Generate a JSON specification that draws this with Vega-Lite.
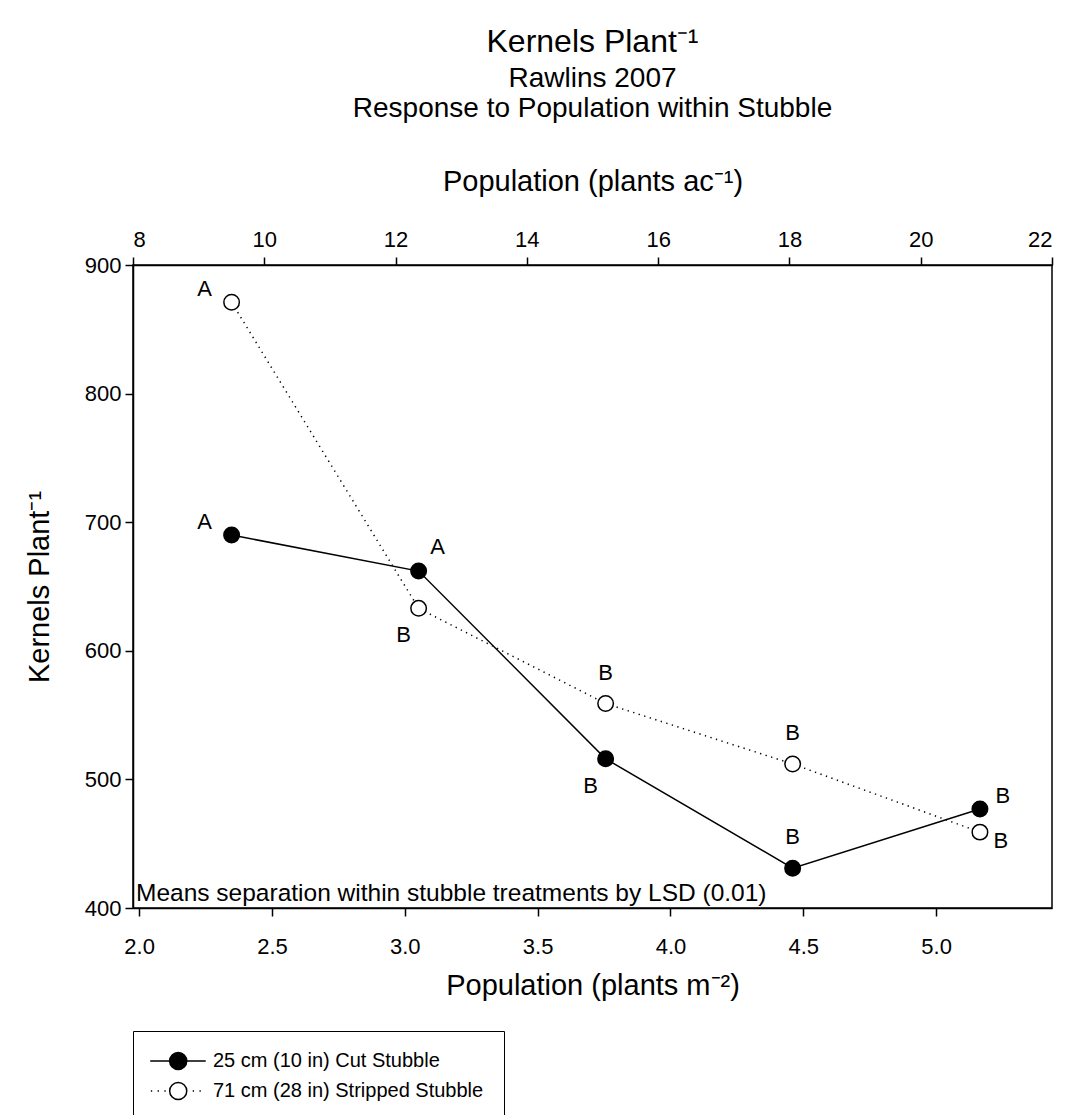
{
  "$schema": "https://vega.github.io/schema/vega-lite/v6.json",
  "width": 919,
  "height": 643,
  "autosize": "none",
  "padding": {"left": 133, "top": 265, "right": 19, "bottom": 207},
  "background": "white",
  "config": {
    "font": "Liberation Sans",
    "view": {"stroke": "black", "strokeWidth": 1.5},
    "axis": {
      "domainColor": "black", "domainWidth": 1.5, "tickColor": "black", "tickWidth": 1.5,
      "labelColor": "black", "titleColor": "black", "labelFont": "Liberation Sans", "titleFont": "Liberation Sans",
      "labelFontSize": 22, "titleFontSize": 29, "titleFontWeight": "normal", "grid": false, "tickSize": 8
    },
    "legend": {
      "orient": "none", "legendX": 0, "legendY": 766,
      "title": null, "strokeColor": "black", "padding": 20,
      "labelFont": "Liberation Sans", "labelFontSize": 20, "labelColor": "black", "labelLimit": 0,
      "symbolSize": 324, "labelOffset": 40, "rowPadding": 6,
      "symbolStrokeColor": "black", "symbolStrokeWidth": 1.5
    }
  },
  "title": {
    "text": "Kernels Plant⁻¹",
    "subtitle": ["Rawlins 2007", "Response to Population within Stubble"],
    "anchor": "middle", "frame": "group",
    "font": "Liberation Sans", "fontSize": 32, "fontWeight": "normal", "color": "black",
    "subtitleFont": "Liberation Sans", "subtitleFontSize": 28, "subtitleColor": "black",
    "subtitleLineHeight": 30, "subtitlePadding": 6, "offset": 43
  },
  "datasets": {
    "pts": [
      {"series": "25 cm (10 in) Cut Stubble", "acres": 9.5, "m2": 2.348, "kernels": 690, "letter": "A"},
      {"series": "25 cm (10 in) Cut Stubble", "acres": 12.35, "m2": 3.052, "kernels": 662, "letter": "A"},
      {"series": "25 cm (10 in) Cut Stubble", "acres": 15.2, "m2": 3.756, "kernels": 516, "letter": "B"},
      {"series": "25 cm (10 in) Cut Stubble", "acres": 18.05, "m2": 4.46, "kernels": 431, "letter": "B"},
      {"series": "25 cm (10 in) Cut Stubble", "acres": 20.9, "m2": 5.165, "kernels": 477, "letter": "B"},
      {"series": "71 cm (28 in) Stripped Stubble", "acres": 9.5, "m2": 2.348, "kernels": 871, "letter": "A"},
      {"series": "71 cm (28 in) Stripped Stubble", "acres": 12.35, "m2": 3.052, "kernels": 633, "letter": "B"},
      {"series": "71 cm (28 in) Stripped Stubble", "acres": 15.2, "m2": 3.756, "kernels": 559, "letter": "B"},
      {"series": "71 cm (28 in) Stripped Stubble", "acres": 18.05, "m2": 4.46, "kernels": 512, "letter": "B"},
      {"series": "71 cm (28 in) Stripped Stubble", "acres": 20.9, "m2": 5.165, "kernels": 459, "letter": "B"}
    ]
  },
  "data": {"name": "pts"},
  "resolve": {"scale": {"x": "independent"}},
  "layer": [
    {
      "encoding": {
        "x": {"field": "m2", "type": "quantitative",
          "scale": {"domain": [1.9768, 5.4363], "nice": false, "zero": false},
          "axis": {"orient": "bottom", "values": [2, 2.5, 3, 3.5, 4, 4.5, 5], "format": ".1f",
            "labelPadding": 20, "title": "Population (plants m⁻²)", "titlePadding": 14}},
        "y": {"field": "kernels", "type": "quantitative",
          "scale": {"domain": [400, 900], "nice": false, "zero": false},
          "axis": {"values": [400, 500, 600, 700, 800, 900], "labelPadding": 4,
            "title": "Kernels Plant⁻¹", "titlePadding": 30}}
      },
      "layer": [
        {
          "transform": [{"filter": "datum.series == '25 cm (10 in) Cut Stubble'"}],
          "mark": {"type": "line", "color": "black", "strokeWidth": 1.5},
          "encoding": {}
        },
        {
          "transform": [{"filter": "datum.series == '71 cm (28 in) Stripped Stubble'"}],
          "mark": {"type": "line", "color": "black", "strokeWidth": 1.5, "strokeDash": [1.3, 4.5]},
          "encoding": {}
        },
        {
          "mark": {"type": "point", "filled": true, "size": 240, "stroke": "black", "strokeWidth": 1.5, "opacity": 1},
          "encoding": {
            "fill": {"field": "series", "type": "nominal",
              "scale": {"domain": ["25 cm (10 in) Cut Stubble", "71 cm (28 in) Stripped Stubble"], "range": ["black", "white"]}}
          }
        },
        {
          "transform": [{"filter": "datum.m2 > 100"}],
          "mark": {"type": "point", "filled": true, "size": 240, "stroke": "black", "strokeWidth": 1.5, "opacity": 1},
          "encoding": {
            "shape": {"field": "series", "type": "nominal",
              "scale": {"domain": ["25 cm (10 in) Cut Stubble", "71 cm (28 in) Stripped Stubble"],
                "range": [
                  "M -1.42 0 L 4.75 0 M 2.64 0 A 0.95 0.95 0 1 1 0.74 0 A 0.95 0.95 0 1 1 2.64 0",
                  "M -1.35 0 L -1.2 0 M -0.6 0 L -0.45 0 M 0.15 0 L 0.3 0 M 3.3 0 L 3.45 0 M 4.05 0 L 4.2 0 M 2.64 0 A 0.95 0.95 0 1 1 0.74 0 A 0.95 0.95 0 1 1 2.64 0"
                ]}}
          }
        },
        {
          "transform": [{"filter": "datum.m2 < 2.5"}],
          "mark": {"type": "text", "fontSize": 22, "color": "black", "dx": -27, "dy": -13},
          "encoding": {"text": {"field": "letter"}}
        },
        {
          "transform": [{"filter": "datum.series == '25 cm (10 in) Cut Stubble' && datum.m2 > 3 && datum.m2 < 3.1"}],
          "mark": {"type": "text", "fontSize": 22, "color": "black", "dx": 19, "dy": -24},
          "encoding": {"text": {"field": "letter"}}
        },
        {
          "transform": [{"filter": "(datum.series == '25 cm (10 in) Cut Stubble' && datum.m2 > 3.7 && datum.m2 < 3.8) || (datum.series == '71 cm (28 in) Stripped Stubble' && datum.m2 > 3 && datum.m2 < 3.1)"}],
          "mark": {"type": "text", "fontSize": 22, "color": "black", "dx": -15, "dy": 27},
          "encoding": {"text": {"field": "letter"}}
        },
        {
          "transform": [{"filter": "(datum.series == '25 cm (10 in) Cut Stubble' && datum.m2 > 4.4 && datum.m2 < 4.5) || (datum.series == '71 cm (28 in) Stripped Stubble' && datum.m2 > 3.7 && datum.m2 < 4.5)"}],
          "mark": {"type": "text", "fontSize": 22, "color": "black", "dx": 0, "dy": -31},
          "encoding": {"text": {"field": "letter"}}
        },
        {
          "transform": [{"filter": "datum.series == '25 cm (10 in) Cut Stubble' && datum.m2 > 5"}],
          "mark": {"type": "text", "fontSize": 22, "color": "black", "dx": 23, "dy": -13},
          "encoding": {"text": {"field": "letter"}}
        },
        {
          "transform": [{"filter": "datum.series == '71 cm (28 in) Stripped Stubble' && datum.m2 > 5"}],
          "mark": {"type": "text", "fontSize": 22, "color": "black", "dx": 21, "dy": 9},
          "encoding": {"text": {"field": "letter"}}
        },
        {
          "transform": [{"filter": "datum.series == '25 cm (10 in) Cut Stubble' && datum.m2 < 2.5"}],
          "mark": {"type": "text", "fontSize": 24.5, "color": "black", "align": "left", "baseline": "bottom", "dx": 3, "dy": -2},
          "encoding": {
            "x": {"datum": 1.9768},
            "y": {"datum": 400},
            "text": {"value": "Means separation within stubble treatments by LSD (0.01)"}
          }
        }
      ]
    },
    {
      "mark": {"type": "point", "opacity": 0, "size": 1},
      "encoding": {
        "x": {"field": "acres", "type": "quantitative",
          "scale": {"domain": [8, 22], "nice": false, "zero": false},
          "axis": {"orient": "top", "values": [8, 10, 12, 14, 16, 18, 20, 22], "format": "d",
            "labelPadding": 6, "title": "Population (plants ac⁻¹)", "titlePadding": 32}},
        "y": {"field": "kernels", "type": "quantitative"}
      }
    }
  ]
}
